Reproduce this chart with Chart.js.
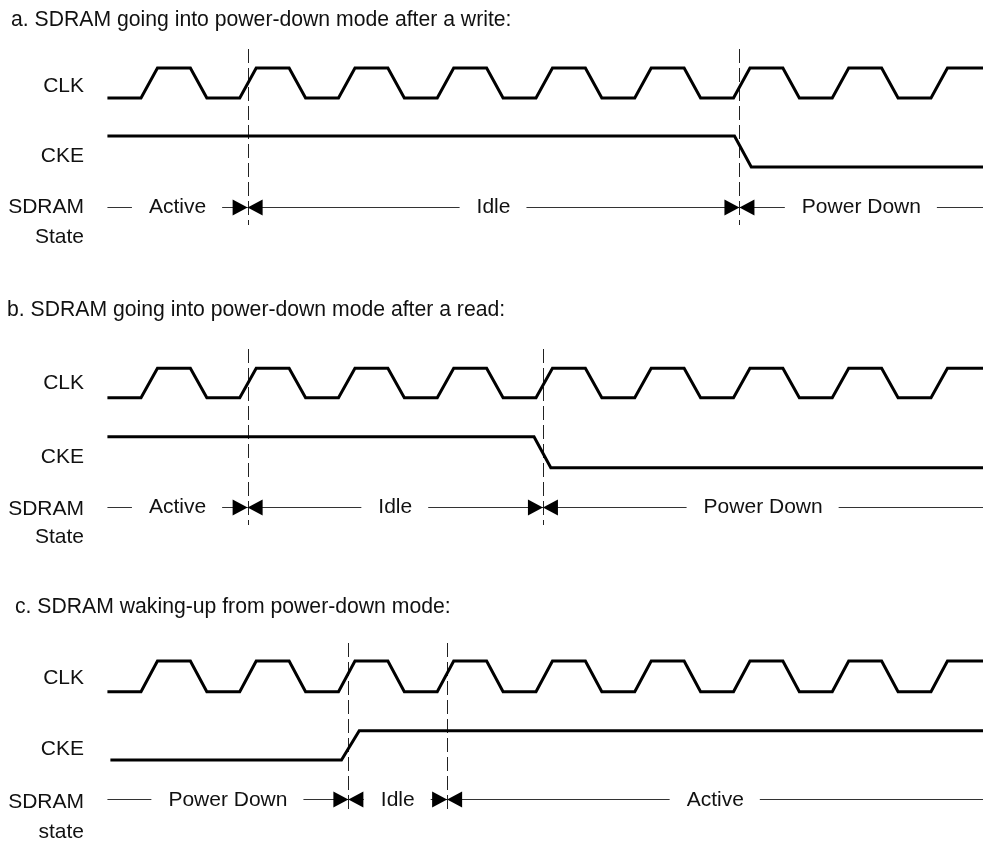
<!DOCTYPE html>
<html>
<head>
<meta charset="utf-8">
<script src="https://cdn.jsdelivr.net/npm/chart.js@4"></script>
<style>
  html, body { margin: 0; padding: 0; background: #fff; }
  #wrap { position: relative; width: 983px; height: 842px; }
  .panel { position: absolute; left: 0; width: 983px; }
</style>
</head>
<body>
<div id="wrap">
  <div class="panel" style="top:0;height:290px"><canvas id="chartA"></canvas></div>
  <div class="panel" style="top:290px;height:290px"><canvas id="chartB"></canvas></div>
  <div class="panel" style="top:580px;height:262px"><canvas id="chartC"></canvas></div>
</div>
<script>
// Texte
const titles = [
  'a. SDRAM going into power-down mode after a write:',
  'b. SDRAM going into power-down mode after a read:',
  'c. SDRAM waking-up from power-down mode:'
];
const signalNames = ['CLK', 'CKE'];
const rowLabelA = ['SDRAM', 'State'];
const rowLabelB = ['SDRAM', 'State'];
const rowLabelC = ['SDRAM', 'state'];

// Takt: steigende Flanken (in Taktperioden, 0 = erste Flanke)
const clkRise = [0, 1, 2, 3, 4, 5, 6, 7, 8];
const clkStart = -0.34;
const clkEnd = 8.53;
const EDGE = 1 / 6;   // Dauer einer Flanke

// CKE Verlauf
const ckeTimesA = [-0.34, 6.01, 6.18, 8.53];
const ckeLevelsA = [1, 1, 0, 0];
const ckeTimesB = [-0.34, 3.98, 4.15, 8.53];
const ckeLevelsB = [1, 1, 0, 0];
const ckeTimesC = [-0.31, 2.03, 2.21, 8.53];
const ckeLevelsC = [0, 0, 1, 1];

// Zustaende und Grenzen
const statesA = ['Active', 'Idle', 'Power Down'];
const boundsA = [1.08, 6.06];
const statesB = ['Active', 'Idle', 'Power Down'];
const boundsB = [1.08, 4.07];
const statesC = ['Power Down', 'Idle', 'Active'];
const boundsC = [2.1, 3.1];

const FONT = '21.2px "Liberation Sans", Arial, sans-serif';
const LABEL_FONT = '21px "Liberation Sans", Arial, sans-serif';

const panels = [
  { id: 'chartA', title: titles[0], ckeT: ckeTimesA, ckeV: ckeLevelsA, states: statesA, bounds: boundsA, rowLabel: rowLabelA,
    L: { h: 290, titleX: 11, titleY: 26, clkHigh: 68, clkLow: 98, ckeHigh: 136, ckeLow: 167, stateY: 207, stateText: 213,
         dashTop: 49, dashBottom: 225, labelY: [92, 162], rowY: [213, 243] } },
  { id: 'chartB', title: titles[1], ckeT: ckeTimesB, ckeV: ckeLevelsB, states: statesB, bounds: boundsB, rowLabel: rowLabelB,
    L: { h: 290, titleX: 7, titleY: 26, clkHigh: 78.3, clkLow: 107.7, ckeHigh: 146.7, ckeLow: 177.7, stateY: 216.7, stateText: 223,
         dashTop: 59, dashBottom: 235, labelY: [99, 173], rowY: [225, 253] } },
  { id: 'chartC', title: titles[2], ckeT: ckeTimesC, ckeV: ckeLevelsC, states: statesC, bounds: boundsC, rowLabel: rowLabelC,
    L: { h: 262, titleX: 15, titleY: 33, clkHigh: 81, clkLow: 111.7, ckeHigh: 150.7, ckeLow: 180, stateY: 219.3, stateText: 226,
         dashTop: 63, dashBottom: 233, labelY: [104, 175], rowY: [228, 258] } }
];

function clockPoints() {
  const pts = [{ x: clkStart, y: 0 }];
  clkRise.forEach(t => {
    pts.push({ x: t, y: 0 }, { x: t + EDGE, y: 1 });
    if (t + 0.5 + EDGE < clkEnd) pts.push({ x: t + 0.5, y: 1 }, { x: t + 0.5 + EDGE, y: 0 });
    else pts.push({ x: clkEnd, y: 1 });
  });
  return pts;
}

// Zeichnet Titel, Beschriftungen, Strichlinien und Zustandszeile
const timingPlugin = {
  id: 'timing',
  beforeDatasetsDraw(chart) {
    const p = chart.options.plugins.timing.panel;
    const L = p.L;
    const ctx = chart.ctx;
    const xs = chart.scales.x;
    ctx.save();
    ctx.strokeStyle = '#222';
    ctx.lineWidth = 1;
    ctx.setLineDash([14, 5]);
    p.bounds.forEach(b => {
      const x = Math.round(xs.getPixelForValue(b)) + 0.5;
      ctx.beginPath();
      ctx.moveTo(x, L.dashTop);
      ctx.lineTo(x, L.dashBottom);
      ctx.stroke();
    });
    ctx.restore();
  },
  afterDatasetsDraw(chart) {
    const p = chart.options.plugins.timing.panel;
    const L = p.L;
    const ctx = chart.ctx;
    const xs = chart.scales.x;
    ctx.save();
    ctx.fillStyle = '#111';
    ctx.textBaseline = 'alphabetic';

    // Titel
    ctx.font = FONT;
    ctx.textAlign = 'left';
    ctx.fillText(p.title, L.titleX, L.titleY);

    // Signalnamen
    ctx.font = LABEL_FONT;
    ctx.textAlign = 'right';
    signalNames.forEach((n, i) => ctx.fillText(n, 84, L.labelY[i]));
    p.rowLabel.forEach((n, i) => ctx.fillText(n, 84, L.rowY[i]));

    // Zustaende
    const edges = [clkStart, ...p.bounds, clkEnd].map(v => xs.getPixelForValue(v));
    const y = Math.round(L.stateY) + 0.5;
    ctx.textAlign = 'center';
    ctx.strokeStyle = '#333';
    ctx.lineWidth = 1;
    p.states.forEach((s, i) => {
      const left = edges[i], right = edges[i + 1];
      const mid = (left + right) / 2;
      const w = ctx.measureText(s).width;
      ctx.beginPath();
      ctx.moveTo(left, y); ctx.lineTo(mid - w / 2 - 17, y);
      ctx.moveTo(mid + w / 2 + 16, y); ctx.lineTo(right, y);
      ctx.stroke();
      ctx.fillText(s, mid, L.stateText);
    });
    // Pfeilspitzen an den Grenzen
    ctx.fillStyle = '#000';
    p.bounds.forEach(b => {
      const x = xs.getPixelForValue(b);
      ctx.beginPath();
      ctx.moveTo(x - 15, y - 8); ctx.lineTo(x, y); ctx.lineTo(x - 15, y + 8); ctx.closePath();
      ctx.fill();
      ctx.beginPath();
      ctx.moveTo(x + 15, y - 8); ctx.lineTo(x, y); ctx.lineTo(x + 15, y + 8); ctx.closePath();
      ctx.fill();
    });
    ctx.restore();
  }
};

panels.forEach(p => {
  const L = p.L;
  const clk = clockPoints().map(pt => ({ x: pt.x, y: pt.y ? L.clkHigh : L.clkLow }));
  const cke = p.ckeT.map((t, i) => ({ x: t, y: p.ckeV[i] ? L.ckeHigh : L.ckeLow }));
  const lineStyle = {
    borderColor: '#000',
    borderWidth: 3,
    pointRadius: 0,
    tension: 0,
    fill: false,
    borderJoinStyle: 'miter',
    borderCapStyle: 'butt'
  };
  new Chart(document.getElementById(p.id), {
    type: 'line',
    data: {
      datasets: [
        { label: 'CLK', data: clk, ...lineStyle },
        { label: 'CKE', data: cke, ...lineStyle }
      ]
    },
    options: {
      responsive: true,
      maintainAspectRatio: false,
      animation: false,
      events: [],
      layout: { padding: 0 },
      parsing: false,
      scales: {
        x: { type: 'linear', min: -141 / 98.75, max: 842 / 98.75, display: false },
        y: { type: 'linear', min: 0, max: L.h, reverse: true, display: false }
      },
      plugins: {
        legend: { display: false },
        tooltip: { enabled: false },
        timing: { panel: p }
      }
    },
    plugins: [timingPlugin]
  });
});
</script>
</body>
</html>
